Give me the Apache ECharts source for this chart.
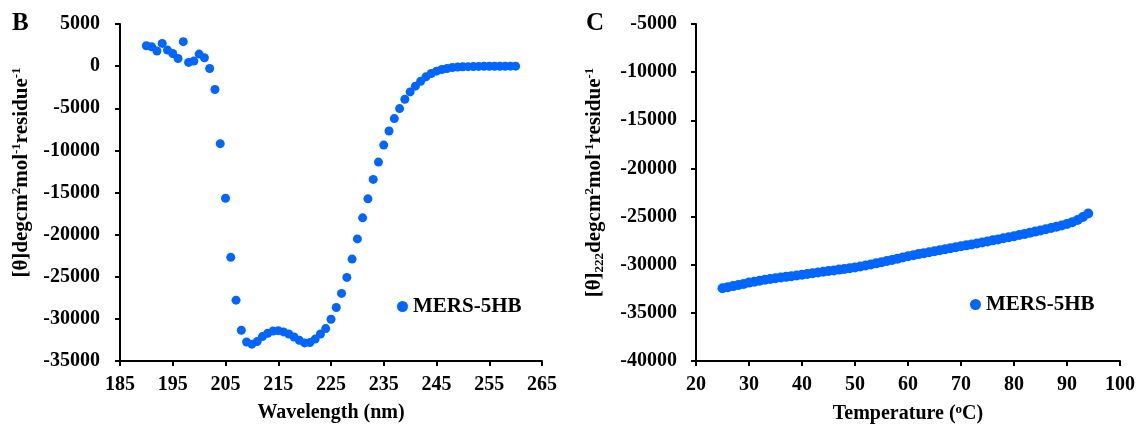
<!DOCTYPE html>
<html>
<head>
<meta charset="utf-8">
<script src="https://cdn.jsdelivr.net/npm/echarts@6/dist/echarts.min.js"></script>
<style>
html,body{margin:0;padding:0;background:#fff;}
#cd{width:1141px;height:430px;}
</style>
</head>
<body>
<div id="cd"></div>
<script>
// panel B: CD spectrum
var wavelength = [190,191,192,193,194,195,196,197,198,199,200,201,202,203,204,205,206,207,208,209,
  210,211,212,213,214,215,216,217,218,219,220,221,222,223,224,225,226,227,228,229,
  230,231,232,233,234,235,236,237,238,239,240,241,242,243,244,245,246,247,248,249,
  250,251,252,253,254,255,256,257,258,259,260];
var theta = [2420,2300,1790,2700,1900,1500,910,2900,440,600,1430,990,-280,-2780,-9200,-15680,-22700,-27780,-31350,-32740,
  -33000,-32700,-32100,-31700,-31450,-31400,-31550,-31800,-32150,-32550,-32850,-32800,-32400,-31800,-31150,-30040,-28650,-26980,-25080,-22900,
  -20510,-18010,-15750,-13450,-11390,-9370,-7700,-6230,-5040,-3930,-3060,-2380,-1790,-1270,-870,-600,-400,-280,-160,-100,
  -80,-60,-40,-30,-20,-20,-10,-10,-10,0,0];
var wlTicks = [185,195,205,215,225,235,245,255,265];

// panel C: thermal melt at 222 nm
var temperature = [25,26,27,28,29,30,31,32,33,34,35,36,37,38,39,40,41,42,43,44,
  45,46,47,48,49,50,51,52,53,54,55,56,57,58,59,60,61,62,63,64,
  65,66,67,68,69,70,71,72,73,74,75,76,77,78,79,80,81,82,83,84,
  85,86,87,88,89,90,91,92,93,94];
var theta222 = [-32450,-32330,-32220,-32110,-31990,-31860,-31760,-31660,-31570,-31480,-31400,-31330,-31260,-31190,-31120,-31050,-30970,-30890,-30810,-30740,
  -30660,-30590,-30510,-30440,-30360,-30280,-30180,-30080,-29970,-29860,-29740,-29620,-29500,-29380,-29250,-29120,-29010,-28900,-28800,-28700,
  -28600,-28500,-28390,-28290,-28190,-28090,-27990,-27890,-27790,-27690,-27580,-27470,-27370,-27260,-27150,-27040,-26920,-26800,-26680,-26560,
  -26440,-26320,-26190,-26060,-25920,-25760,-25580,-25350,-25050,-24680];

var seriesName = 'MERS-5HB';
var blue = '#0066ff';
var font = "'Liberation Serif','Times New Roman',serif";

function pairs(xs, ys) {
  var out = [];
  for (var i = 0; i < xs.length; i++) out.push([xs[i], ys[i]]);
  return out;
}
function plain(v) { return String(v); }

var lbl = {color:'#000', fontFamily:font, fontWeight:'bold', fontSize:20, formatter:plain};
var richName = {
  sup:{fontFamily:font, fontWeight:'bold', fontSize:13, lineHeight:13, verticalAlign:'top', color:'#000'},
  sub:{fontFamily:font, fontWeight:'bold', fontSize:13, lineHeight:13, verticalAlign:'bottom', color:'#000'}
};
var axLine = {show:true, onZero:false, lineStyle:{color:'#000', width:2}};
var axTick = {show:true, length:5, lineStyle:{color:'#000', width:2}};

var myChart = echarts.init(document.getElementById('cd'));
var option = {
  animation:false,
  backgroundColor:'#fff',
  title:[
    {text:'B', left:12, top:11, padding:0, textStyle:{fontFamily:font, fontWeight:'bold', fontSize:25, color:'#000'}},
    {text:'C', left:586, top:11, padding:0, textStyle:{fontFamily:font, fontWeight:'bold', fontSize:25, color:'#000'}}
  ],
  legend:[
    {data:[seriesName], left:397, top:296, icon:'circle', itemWidth:11, itemHeight:11, itemGap:4, padding:0,
      textStyle:{color:'#000', fontFamily:font, fontWeight:'bold', fontSize:21}},
    {data:[seriesName], left:970, top:294, icon:'circle', itemWidth:11, itemHeight:11, itemGap:4, padding:0,
      textStyle:{color:'#000', fontFamily:font, fontWeight:'bold', fontSize:21}}
  ],
  grid:[
    {left:120, top:24, width:422, height:337},
    {left:696, top:24, width:424, height:338}
  ],
  xAxis:[
    {type:'value', gridIndex:0, min:185, max:265,
      name:'Wavelength (nm)', nameLocation:'middle', nameGap:42,
      nameTextStyle:{color:'#000', fontFamily:font, fontWeight:'bold', fontSize:20},
      axisLine:axLine, axisTick:{show:true, length:5, lineStyle:{color:'#000', width:2}, customValues:wlTicks},
      axisLabel:Object.assign({margin:14, customValues:wlTicks}, lbl),
      splitLine:{show:false}},
    {type:'value', gridIndex:1, min:20, max:100, interval:10,
      name:'Temperature ({sup|o}C)', nameLocation:'middle', nameGap:42,
      nameTextStyle:{color:'#000', fontFamily:font, fontWeight:'bold', fontSize:20, lineHeight:22, rich:richName},
      axisLine:axLine, axisTick:axTick,
      axisLabel:Object.assign({margin:14}, lbl),
      splitLine:{show:false}}
  ],
  yAxis:[
    {type:'value', gridIndex:0, min:-35000, max:5000, interval:5000,
      name:'[θ]degcm{sup|2}mol{sup|-1}residue{sup|-1}', nameLocation:'middle', nameGap:87,
      nameTextStyle:{color:'#000', fontFamily:font, fontWeight:'bold', fontSize:21, lineHeight:23, padding:[0,0,0,40], rich:richName},
      axisLine:axLine, axisTick:axTick,
      axisLabel:Object.assign({margin:20}, lbl),
      splitLine:{show:false}},
    {type:'value', gridIndex:1, min:-40000, max:-5000, interval:5000,
      name:'[θ]{sub|222}degcm{sup|2}mol{sup|-1}residue{sup|-1}', nameLocation:'middle', nameGap:90,
      nameTextStyle:{color:'#000', fontFamily:font, fontWeight:'bold', fontSize:21, lineHeight:23, padding:[0,0,0,20], rich:richName},
      axisLine:axLine, axisTick:axTick,
      axisLabel:Object.assign({margin:19}, lbl),
      splitLine:{show:false}}
  ],
  series:[
    {name:seriesName, type:'scatter', xAxisIndex:0, yAxisIndex:0, symbolSize:9,
      itemStyle:{color:blue, opacity:1}, data:pairs(wavelength, theta)},
    {name:seriesName, type:'scatter', xAxisIndex:1, yAxisIndex:1, symbolSize:10,
      itemStyle:{color:blue, opacity:1}, data:pairs(temperature, theta222)}
  ]
};
myChart.setOption(option);
</script>
</body>
</html>
